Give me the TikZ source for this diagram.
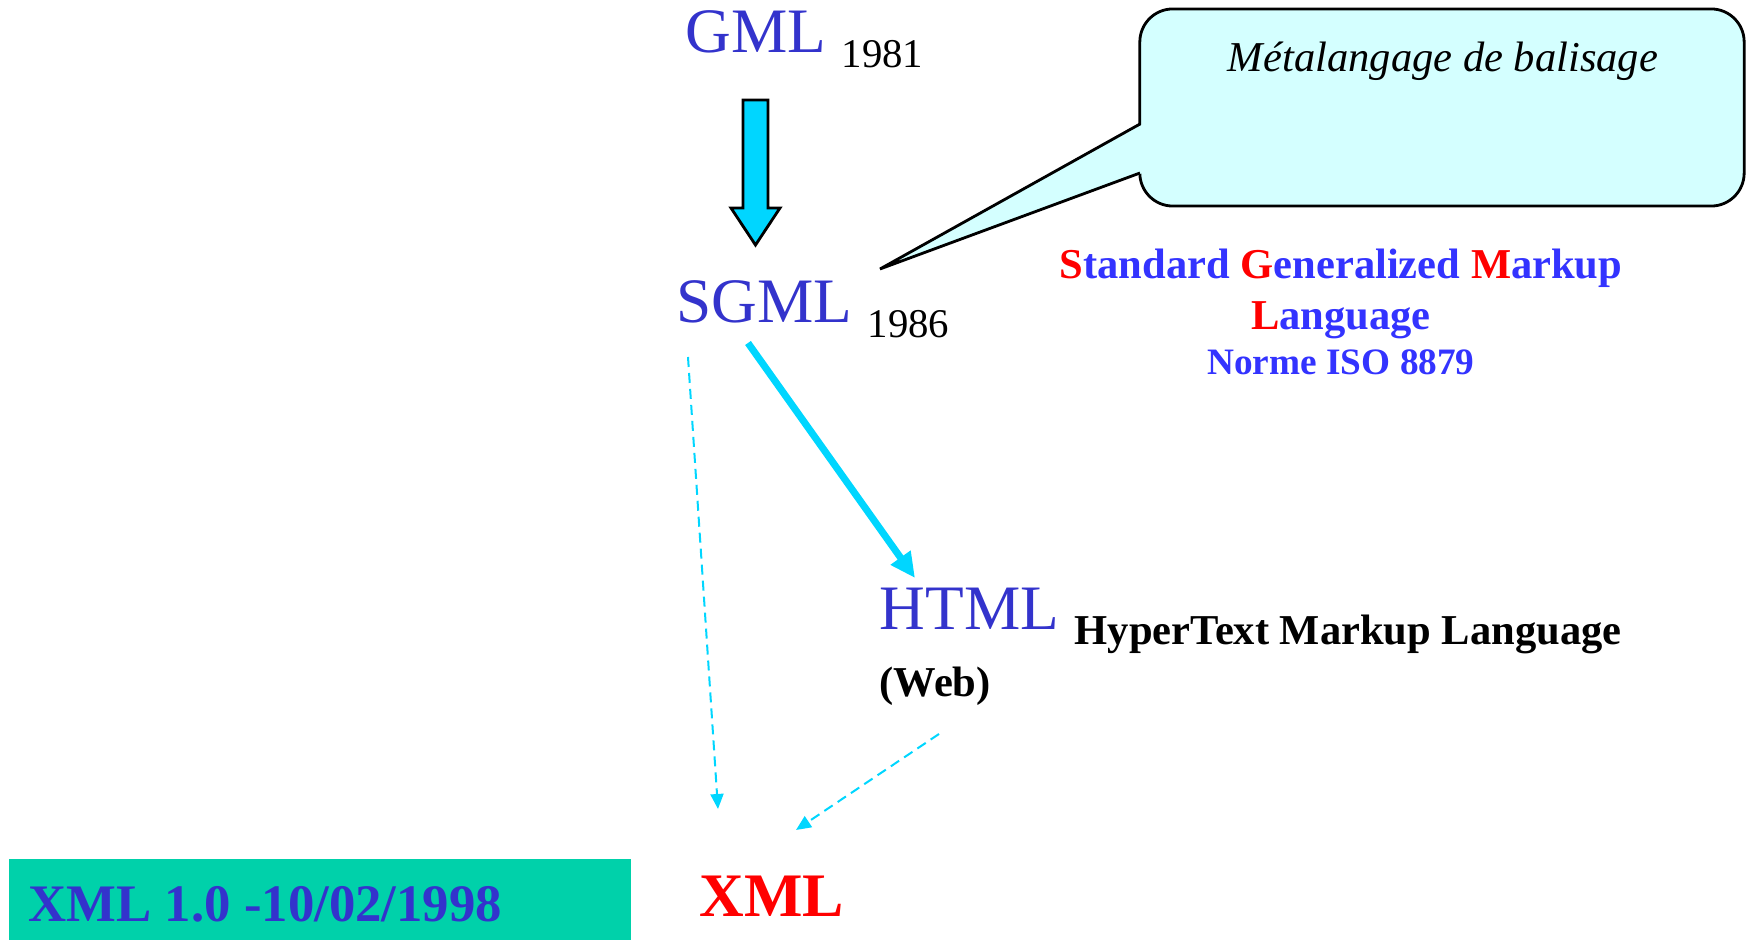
\documentclass[tikz,border=0pt]{standalone}
\usepackage{fontspec}
\setmainfont{Liberation Serif}
\usetikzlibrary{arrows.meta}
\definecolor{langblue}{RGB}{51,51,204}
\definecolor{glossblue}{RGB}{51,51,255}
\definecolor{flowcyan}{RGB}{0,214,255}
\definecolor{bubblecyan}{RGB}{212,255,255}
\definecolor{dategreen}{RGB}{0,209,170}
\begin{document}
\begin{tikzpicture}[x=0.01cm, y=-0.01cm,
    every node/.style={inner sep=0pt, anchor=base west},
    lang/.style={text=langblue, font=\fontsize{18pt}{20pt}\selectfont},
    year/.style={font=\fontsize{11.6pt}{14pt}\selectfont},
    gloss/.style={font=\bfseries\fontsize{12.1pt}{14pt}\selectfont},
    dashlink/.style={flowcyan, line width=0.57pt, dash pattern=on 0.1cm off 0.06cm,
        -{Triangle[length=0.15cm, width=0.13cm]}}]
    \useasboundingbox (0,0) rectangle (1750,940);
    % les langages
    \node[lang] (gml) at (685,53) {GML};
    \node[year] (gmlyear) at (841,68) {1981};
    \node[lang] (sgml) at (676,323) {SGML};
    \node[year] (sgmlyear) at (867,338) {1986};
    \node[lang] (html) at (879,630) {HTML};
    \node[gloss] (htmlname) at (1074,645) {HyperText Markup Language};
    \node[gloss] (web) at (879,697) {(Web)};
    \node[text=red, font=\bfseries\fontsize{17.6pt}{20pt}\selectfont] (xml) at (699,917) {XML};
    % bulle
    \node[draw, line width=0.8pt, fill=bubblecyan, rounded corners=0.33cm, anchor=center,
        minimum width=6.04cm, minimum height=1.97cm] (bubble) at (1442,107.5) {};
    \coordinate (bubbletip) at (880,269);
    \fill[bubblecyan] (1143,124) -- (bubbletip) -- (1143,173) -- cycle;
    \draw[line width=0.8pt, line join=miter] (1140,124) -- (bubbletip) -- (1140,173);
    \node[font=\itshape\fontsize{12.1pt}{14pt}\selectfont, anchor=base] (meta) at (1443,72)
        {Métalangage de balisage};
    % SGML en toutes lettres
    \node[gloss, text=glossblue, anchor=base] (sgmlname) at (1341,279)
        {\textcolor{red}{S}tandard \textcolor{red}{G}eneralized \textcolor{red}{M}arkup};
    \node[gloss, text=glossblue, anchor=base] (sgmllang) at (1341,330)
        {\textcolor{red}{L}anguage};
    \node[text=glossblue, font=\bfseries\fontsize{10.6pt}{12pt}\selectfont, anchor=base] (iso)
        at (1341,375) {Norme ISO 8879};
    % GML -> SGML
    \coordinate (gmltop) at (755.5,100);
    \coordinate (sgmltip) at (755.5,245);
    \draw[fill=flowcyan, line width=0.8pt, line join=miter] (gmltop) ++(-12.5,0) -- ++(25,0)
        -- ++(0,108) -- ++(12,0) -- (sgmltip) -- ++(-24.5,-37) -- ++(12,0) -- cycle;
    % SGML -> HTML
    \coordinate (sgmlout) at (748,343);
    \coordinate (htmlin) at (915,578);
    \draw[flowcyan, line width=2pt, -{Triangle[length=0.25cm, width=0.23cm]}] (sgmlout) -- (htmlin);
    % vers XML
    \coordinate (sgmldash) at (688,357);
    \coordinate (xmlleft) at (718,809);
    \coordinate (webdash) at (939,734);
    \coordinate (xmlright) at (796,830);
    \draw[dashlink] (sgmldash) -- (xmlleft);
    \draw[dashlink] (webdash) -- (xmlright);
    % date de la recommandation
    \fill[dategreen] (9,859) rectangle (631,940);
    \node[text=langblue, font=\bfseries\fontsize{15pt}{17pt}\selectfont] (xmldate) at (28,922)
        {XML 1.0 -10/02/1998};
\end{tikzpicture}
\end{document}
